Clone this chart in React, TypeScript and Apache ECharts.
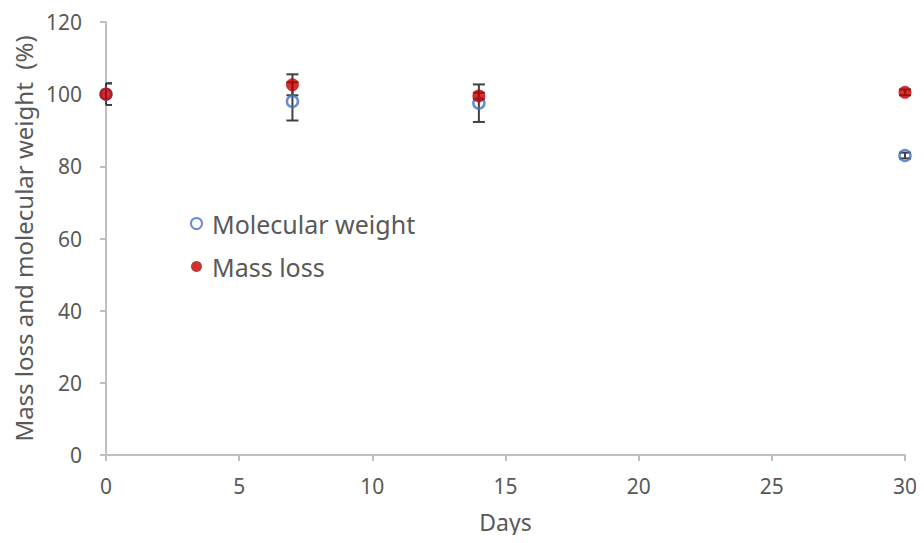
import React, { useEffect, useRef } from "react";
import * as echarts from "echarts";

const days = [0, 7, 14, 30];
const molecularWeight = [100, 98, 97.5, 83];
const molecularWeightErr = [3, 5.3, 5.2, 0.8];
const massLoss = [100, 102.6, 99.5, 100.5];
const massLossErr = [3, 2.9, 0.9, 0.8];
const xTicks = [0, 5, 10, 15, 20, 25, 30];
const yTicks = [0, 20, 40, 60, 80, 100, 120];

const FONT = "Noto Sans";
const TEXT = "#595959";

function errorSeries(values: number[], errs: number[], name: string) {
  return {
    type: "custom",
    name,
    silent: true,
    data: days.map((d, i) => [d, values[i] - errs[i], values[i] + errs[i]]),
    renderItem: (params: any, api: any) => {
      const x = api.value(0);
      const lo = api.coord([x, api.value(1)]);
      const hi = api.coord([x, api.value(2)]);
      const origin = api.coord([0, 0]);
      const cap = 6;
      const left = Math.max(lo[0] - cap, origin[0]);
      const right = lo[0] + cap;
      const style = { stroke: "#404040", lineWidth: 2 };
      return {
        type: "group",
        children: [
          { type: "line", shape: { x1: lo[0], y1: lo[1], x2: hi[0], y2: hi[1] }, style },
          { type: "line", shape: { x1: left, y1: lo[1], x2: right, y2: lo[1] }, style },
          { type: "line", shape: { x1: left, y1: hi[1], x2: right, y2: hi[1] }, style },
        ],
      };
    },
  };
}

export default function App() {
  const ref = useRef<HTMLDivElement>(null);
  useEffect(() => {
    if (!ref.current) return;
    const chart = echarts.init(ref.current, null, { renderer: "svg" });
    chart.setOption({
      animation: false,
      textStyle: { fontFamily: FONT },
      grid: { left: 106, right: 19, top: 22, bottom: 88 },
      legend: {
        data: ["Molecular weight", "Mass loss"],
        orient: "vertical",
        left: 185,
        top: 206,
        itemWidth: 11,
        itemHeight: 11,
        itemGap: 18,
        textStyle: { fontSize: 25, color: TEXT, fontFamily: FONT, padding: [0, 0, 0, 5] },
      },
      xAxis: {
        type: "value",
        min: 0,
        max: 30,
        interval: 5,
        name: "Days",
        nameLocation: "middle",
        nameGap: 55,
        nameTextStyle: { fontSize: 23, color: TEXT },
        axisLine: { show: true, lineStyle: { color: "#bfbfbf", width: 2 } },
        axisTick: { show: true, length: 6, lineStyle: { color: "#bfbfbf", width: 2 } },
        axisLabel: {
          fontSize: 21,
          color: TEXT,
          margin: 20,
          formatter: (v: number) => (xTicks.includes(v) ? String(v) : ""),
        },
        splitLine: { show: false },
      },
      yAxis: {
        type: "value",
        min: 0,
        max: 120,
        interval: 20,
        name: "Mass loss and molecular weight  (%)",
        nameLocation: "middle",
        nameGap: 70,
        nameTextStyle: { fontSize: 24, color: TEXT },
        axisLine: { show: true, lineStyle: { color: "#bfbfbf", width: 2 } },
        axisTick: { show: true, length: 6, lineStyle: { color: "#bfbfbf", width: 2 } },
        axisLabel: {
          fontSize: 21,
          color: TEXT,
          margin: 24,
          formatter: (v: number) => (yTicks.includes(v) ? String(v) : ""),
        },
        splitLine: { show: false },
      },
      series: [
        errorSeries(molecularWeight, molecularWeightErr, "mwErr"),
        {
          type: "scatter",
          name: "Molecular weight",
          symbol: "circle",
          symbolSize: 11,
          data: days.map((d, i) => [d, molecularWeight[i]]),
          itemStyle: { color: "rgba(255,255,255,0)", borderColor: "#4472c4", borderWidth: 2.5 },
        },
        errorSeries(massLoss, massLossErr, "mlErr"),
        {
          type: "scatter",
          name: "Mass loss",
          symbol: "circle",
          symbolSize: 13,
          data: days.map((d, i) => [d, massLoss[i]]),
          itemStyle: { color: "#c00000" },
        },
      ],
    });
    return () => chart.dispose();
  }, []);
  return <div ref={ref} style={{ width: 924, height: 543, margin: -8 }} />;
}
